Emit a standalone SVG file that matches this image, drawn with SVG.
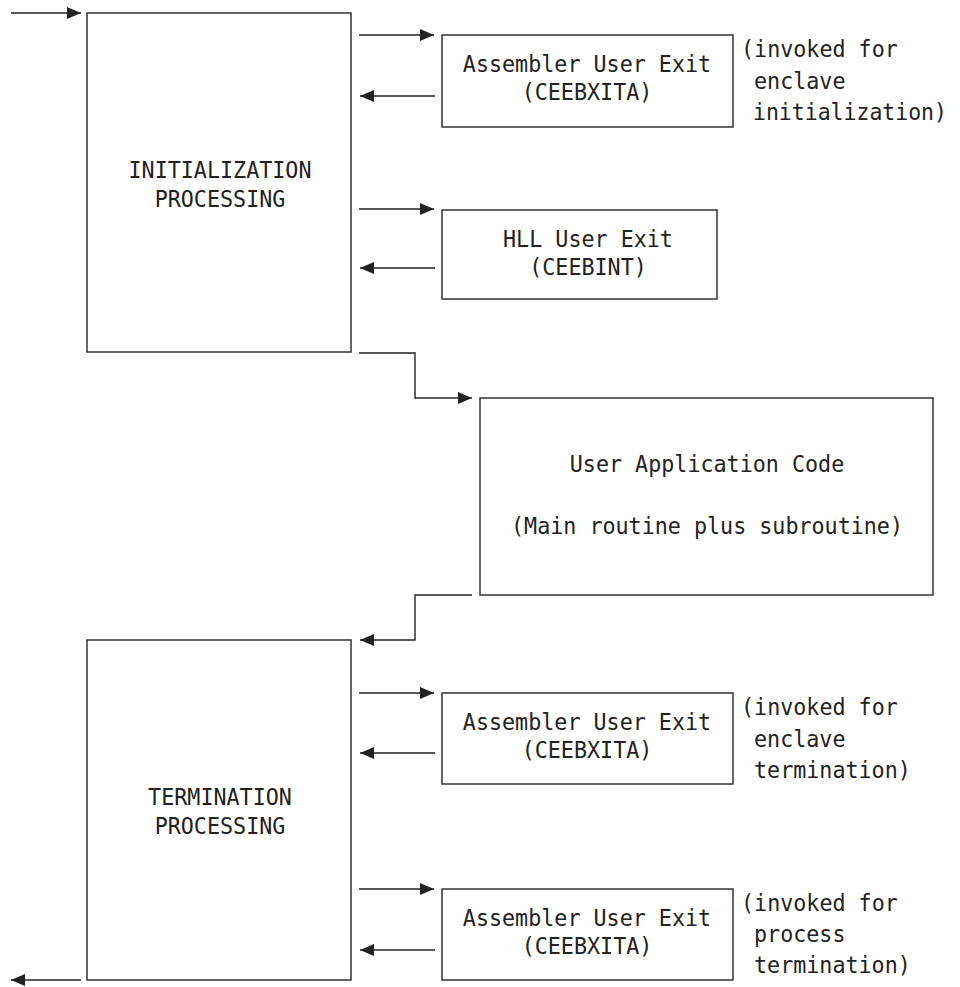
<svg xmlns="http://www.w3.org/2000/svg" width="960" height="987" viewBox="0 0 960 987">
<style>
.box{fill:#fff;stroke:#333;stroke-width:1.5}
.ln{fill:none;stroke:#222;stroke-width:1.4}
text{font-family:"DejaVu Sans Mono","Liberation Mono",monospace;font-size:23.5px;fill:#222}
.c{text-anchor:middle}
</style>
<defs>
<marker id="ah" markerUnits="userSpaceOnUse" viewBox="0 0 14 12" refX="14" refY="6" markerWidth="14" markerHeight="12" orient="auto">
<path d="M0,0 L14,6 L0,12 Z" fill="#222"/>
</marker>
</defs>
<rect width="960" height="987" fill="#fff"/>
<g id="connectors">
<line class="ln" x1="11" y1="13" x2="81" y2="13" marker-end="url(#ah)"/>
<line class="ln" x1="359" y1="35" x2="434" y2="35" marker-end="url(#ah)"/>
<line class="ln" x1="435" y1="96" x2="360" y2="96" marker-end="url(#ah)"/>
<line class="ln" x1="359" y1="209" x2="434" y2="209" marker-end="url(#ah)"/>
<line class="ln" x1="435" y1="268" x2="360" y2="268" marker-end="url(#ah)"/>
<polyline class="ln" points="359,353 415,353 415,398 472,398" marker-end="url(#ah)"/>
<polyline class="ln" points="472,595 415,595 415,640 360,640" marker-end="url(#ah)"/>
<line class="ln" x1="359" y1="693" x2="434" y2="693" marker-end="url(#ah)"/>
<line class="ln" x1="435" y1="753" x2="360" y2="753" marker-end="url(#ah)"/>
<line class="ln" x1="359" y1="889" x2="434" y2="889" marker-end="url(#ah)"/>
<line class="ln" x1="435" y1="950" x2="360" y2="950" marker-end="url(#ah)"/>
<line class="ln" x1="81" y1="980" x2="11" y2="980" marker-end="url(#ah)"/>
</g>
<g id="init">
<rect class="box" x="87" y="13" width="264" height="339"/>
<text class="c" x="220" y="178" textLength="183" lengthAdjust="spacingAndGlyphs">INITIALIZATION</text>
<text class="c" x="220" y="207" textLength="130.7" lengthAdjust="spacingAndGlyphs">PROCESSING</text>
</g>
<g id="asm1">
<rect class="box" x="442" y="35" width="291" height="92"/>
<text class="c" x="587" y="72" textLength="248.3" lengthAdjust="spacingAndGlyphs">Assembler User Exit</text>
<text class="c" x="587" y="100" textLength="130.7" lengthAdjust="spacingAndGlyphs">(CEEBXITA)</text>
</g>
<g id="note1">
<text x="741" y="57" textLength="156.8" lengthAdjust="spacingAndGlyphs">(invoked for</text>
<text x="754" y="89" textLength="91.5" lengthAdjust="spacingAndGlyphs">enclave</text>
<text x="753" y="120" style="font-size:22.5px" textLength="194" lengthAdjust="spacingAndGlyphs">initialization)</text>
</g>
<g id="hll">
<rect class="box" x="442" y="210" width="275" height="89"/>
<text class="c" x="588" y="247" textLength="169.9" lengthAdjust="spacingAndGlyphs">HLL User Exit</text>
<text class="c" x="588" y="275" textLength="117.6" lengthAdjust="spacingAndGlyphs">(CEEBINT)</text>
</g>
<g id="app">
<rect class="box" x="480" y="398" width="453" height="197"/>
<text class="c" x="707" y="472" textLength="274.5" lengthAdjust="spacingAndGlyphs">User Application Code</text>
<text class="c" x="707" y="534" textLength="392" lengthAdjust="spacingAndGlyphs">(Main routine plus subroutine)</text>
</g>
<g id="term">
<rect class="box" x="87" y="640" width="264" height="340"/>
<text class="c" x="220" y="805" textLength="143.8" lengthAdjust="spacingAndGlyphs">TERMINATION</text>
<text class="c" x="220" y="834" textLength="130.7" lengthAdjust="spacingAndGlyphs">PROCESSING</text>
</g>
<g id="asm2">
<rect class="box" x="442" y="693" width="291" height="91"/>
<text class="c" x="587" y="730" textLength="248.3" lengthAdjust="spacingAndGlyphs">Assembler User Exit</text>
<text class="c" x="587" y="758" textLength="130.7" lengthAdjust="spacingAndGlyphs">(CEEBXITA)</text>
</g>
<g id="note2">
<text x="741" y="715" textLength="156.8" lengthAdjust="spacingAndGlyphs">(invoked for</text>
<text x="754" y="747" textLength="91.5" lengthAdjust="spacingAndGlyphs">enclave</text>
<text x="754" y="778" textLength="156.8" lengthAdjust="spacingAndGlyphs">termination)</text>
</g>
<g id="asm3">
<rect class="box" x="442" y="889" width="291" height="91"/>
<text class="c" x="587" y="926" textLength="248.3" lengthAdjust="spacingAndGlyphs">Assembler User Exit</text>
<text class="c" x="587" y="954" textLength="130.7" lengthAdjust="spacingAndGlyphs">(CEEBXITA)</text>
</g>
<g id="note3">
<text x="741" y="911" textLength="156.8" lengthAdjust="spacingAndGlyphs">(invoked for</text>
<text x="754" y="942" textLength="91.5" lengthAdjust="spacingAndGlyphs">process</text>
<text x="754" y="973" textLength="156.8" lengthAdjust="spacingAndGlyphs">termination)</text>
</g>
</svg>
